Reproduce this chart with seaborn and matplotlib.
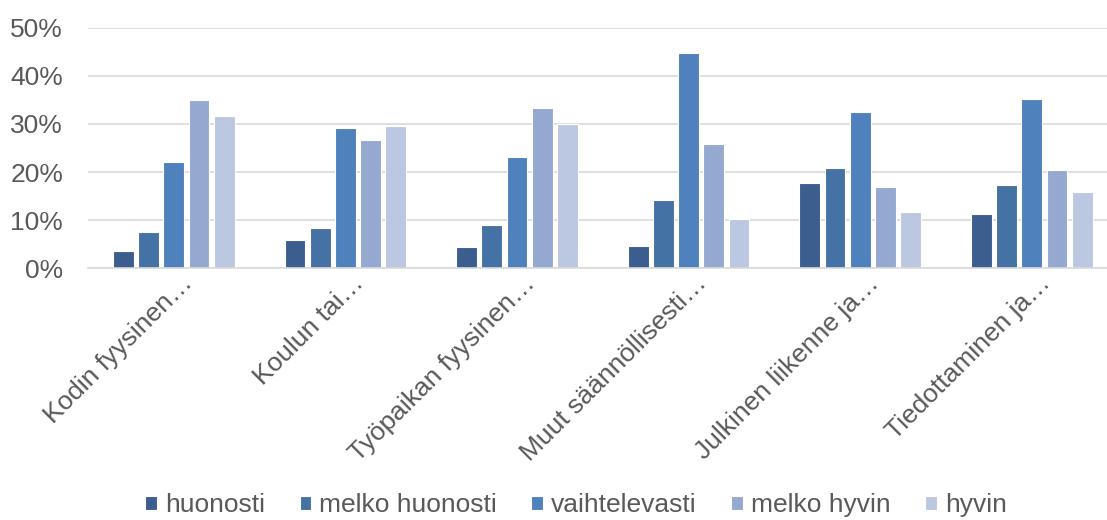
import matplotlib
matplotlib.use("Agg")
import matplotlib.pyplot as plt
import matplotlib.ticker as mticker
import matplotlib.transforms as mtransforms
import seaborn as sns
import pandas as pd

categories = ["Kodin fyysinen…", "Koulun tai…", "Työpaikan fyysinen…",
              "Muut säännöllisesti…", "Julkinen liikenne ja…", "Tiedottaminen ja…"]
series = ["huonosti", "melko huonosti", "vaihtelevasti", "melko hyvin", "hyvin"]
huonosti = [3.5, 5.9, 4.5, 4.65, 17.7, 11.25]
melko_huonosti = [7.6, 8.4, 9.0, 14.2, 20.9, 17.3]
vaihtelevasti = [22.0, 29.1, 23.1, 44.8, 32.5, 35.2]
melko_hyvin = [34.9, 26.7, 33.3, 25.8, 16.9, 20.4]
hyvin = [31.7, 29.6, 29.9, 10.2, 11.7, 15.8]
yticks = [0, 10, 20, 30, 40, 50]
colors = ["#3B5E8E", "#4472A5", "#4F81BD", "#95A9D0", "#BCC8E2"]

values = [huonosti, melko_huonosti, vaihtelevasti, melko_hyvin, hyvin]
rows = []
for s, vals in zip(series, values):
    for c, v in zip(categories, vals):
        rows.append({"category": c, "series": s, "value": v})
df = pd.DataFrame(rows)

sns.set_theme(style="white")
plt.rcParams["font.family"] = ["Liberation Sans", "DejaVu Sans"]
text_color = "#595959"

fig = plt.figure(figsize=(11.07, 5.2), dpi=100)
ax = fig.add_axes([88 / 1107, 1 - 268.3 / 520, (6 * 171.6) / 1107, (268.3 - 27.7) / 520])

sns.barplot(data=df, x="category", y="value", hue="series", order=categories,
            hue_order=series, palette=colors, saturation=1, width=0.734, gap=0.18,
            edgecolor="white", linewidth=0.8, ax=ax, legend=True)

ax.set_ylim(0, 50)
ax.set_yticks(yticks)
ax.yaxis.set_major_formatter(mticker.FuncFormatter(lambda v, p: f"{v:.0f}%"))
ax.set_xlim(-0.5, len(categories) - 0.5)
ax.grid(axis="y", color="#D9D9D9", linewidth=1.2)
ax.set_axisbelow(True)
for side in ["top", "right", "left"]:
    ax.spines[side].set_visible(False)
ax.spines["bottom"].set_color("#D9D9D9")
ax.spines["bottom"].set_linewidth(1.2)
ax.set_xlabel("")
ax.set_ylabel("")
ax.tick_params(axis="y", length=0, pad=18, labelsize=19, labelcolor=text_color)
ax.tick_params(axis="x", length=0, pad=2, labelsize=19, labelcolor=text_color)
offset = mtransforms.ScaledTranslation(6 / 100, 0, fig.dpi_scale_trans)
for lbl in ax.get_xticklabels():
    lbl.set_rotation(45)
    lbl.set_ha("right")
    lbl.set_va("top")
    lbl.set_rotation_mode("anchor")
    lbl.set_transform(lbl.get_transform() + offset)

handles, labels = ax.get_legend_handles_labels()
ax.get_legend().remove()
leg = fig.legend(handles, labels, loc="center", ncol=5,
                 bbox_to_anchor=(576 / 1107, 1 - 505 / 520),
                 frameon=False, fontsize=19, handlelength=0.45, handleheight=0.45,
                 handletextpad=0.3, columnspacing=1.3, borderaxespad=0)
for t in leg.get_texts():
    t.set_color(text_color)

fig.savefig("out.png", dpi=100)
